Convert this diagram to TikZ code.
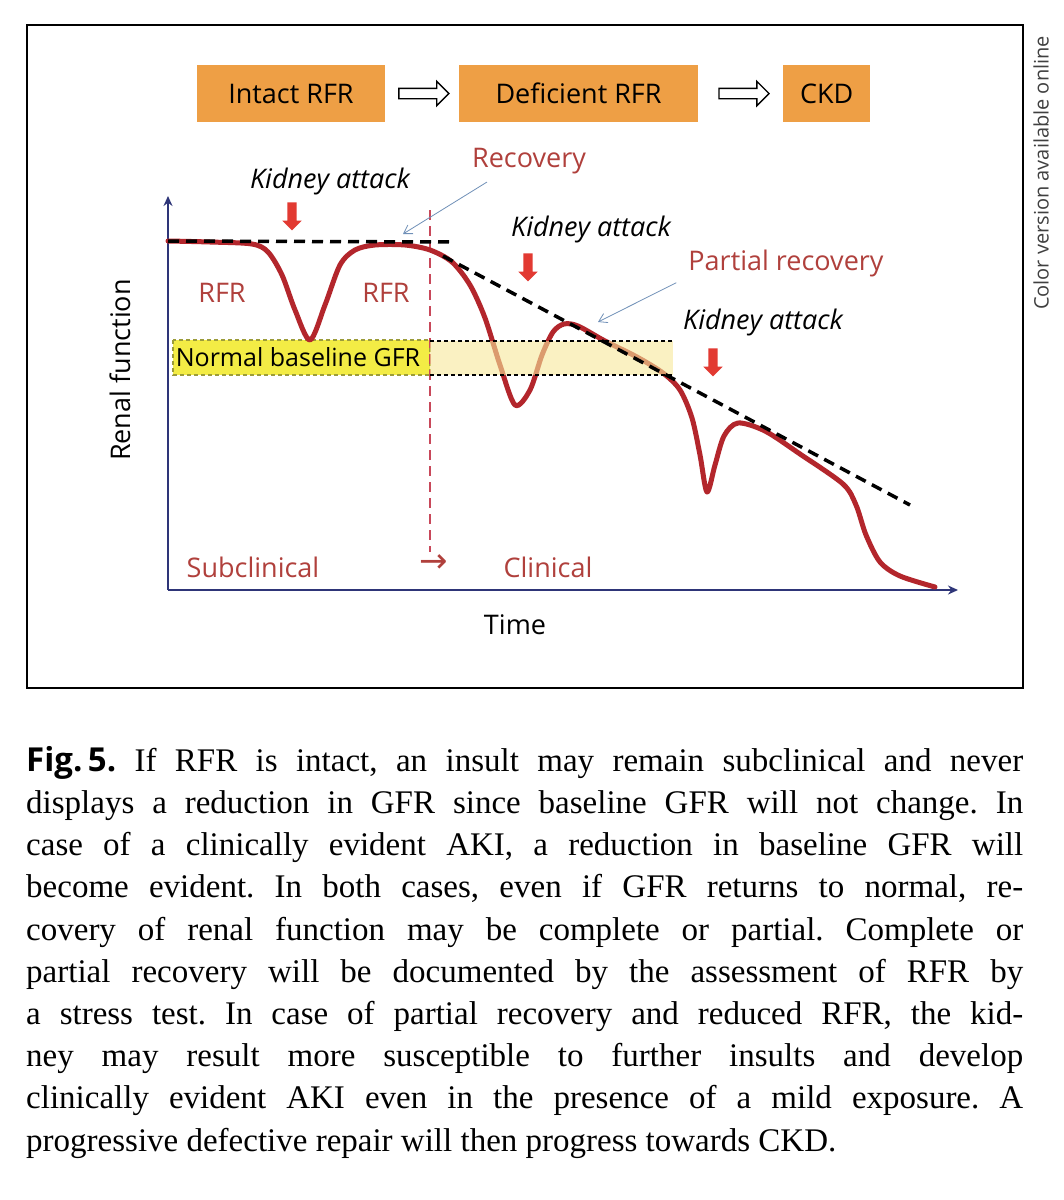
\documentclass[tikz,border=0pt]{standalone}
\usepackage{fontspec}
\setmainfont{Liberation Serif}
\setsansfont{Open Sans}
\newfontfamily\symfont{DejaVu Sans}
\usetikzlibrary{positioning,shapes.arrows,arrows.meta}

\definecolor{boxorange}{HTML}{EE9F45}
\definecolor{curvered}{HTML}{B3262C}
\definecolor{labelred}{HTML}{B0403C}
\definecolor{attackred}{HTML}{E23A32}
\definecolor{axisblue}{HTML}{2E3578}
\definecolor{pointerblue}{HTML}{7090B8}
\definecolor{bandyellow}{HTML}{F3EC45}
\definecolor{bandpale}{HTML}{F7E99A}
\definecolor{bandedge}{HTML}{9C9C3A}
\definecolor{splitred}{HTML}{C8485A}

\tikzset{
  stage/.style={fill=boxorange, minimum height=57pt, inner sep=0pt, font=\sffamily\fontsize{27}{32}\selectfont},
  hollow/.style={single arrow, draw=black, fill=white, line width=1.4pt, minimum height=50pt,
    minimum width=24pt, inner sep=4.5pt, single arrow head extend=7pt, single arrow head indent=0pt},
  attack/.style={single arrow, fill=attackred, rotate=-90, minimum height=28pt, minimum width=19pt,
    inner sep=4.5pt, single arrow head extend=5pt},
  lbl/.style={font=\sffamily\fontsize{27}{32}\selectfont, inner sep=0pt},
  redlbl/.style={lbl, text=labelred},
  attacklbl/.style={lbl, font=\sffamily\itshape\fontsize{27}{32}\selectfont},
  pointer/.style={draw=pointerblue, line width=0.8pt, -{Straight Barb[length=8pt,width=10pt]}},
  axis/.style={draw=axisblue, line width=2.5pt, -{Stealth[length=10pt,width=9pt]}},
  trend/.style={black, line width=3.5pt, dash pattern=on 11pt off 7pt},
}

\begin{document}
\begin{tikzpicture}[x=1pt, y=-1pt]
\useasboundingbox (0,0) rectangle (1064,1200);
\fill[white] (0,0) rectangle (1064,1200);

% frame and side note
\draw[line width=1.5pt] (27,25) rectangle (1023,688);
\node[rotate=90, inner sep=0pt, text=black!75, font=\sffamily\fontsize{20}{24}\selectfont] (note) at (1041,173) {Color version available online};

% stages
\node[stage, minimum width=188pt] (intact) at (291,93.5) {Intact RFR};
\node[hollow, right=13pt of intact] (arr1) {};
\node[stage, minimum width=239pt, right=9pt of arr1] (deficient) {Deficient RFR};
\node[hollow, right=20pt of deficient] (arr2) {};
\node[stage, minimum width=87pt, right=13pt of arr2] (ckd) {CKD};

% axes
\coordinate (origin) at (168,590);
\coordinate (ytop) at (168,196);
\coordinate (xend) at (958,590);
\draw[axis] (origin) -- (ytop);
\draw[axis] (origin) -- (xend);

% baseline band
\fill[bandyellow] (173,340) rectangle (430,375);
\draw[bandedge, line width=1.5pt, dash pattern=on 4pt off 3pt] (173,340) rectangle (430,375);
\node[lbl, font=\sffamily\fontsize{25}{30}\selectfont] (baseline) at (298,357) {Normal baseline GFR};

% subclinical / clinical split
\draw[splitred, line width=1.8pt, dash pattern=on 10pt off 6pt] (430,210) -- (430,552);

% renal function
\draw[curvered, line width=5pt, line cap=round, line join=round] plot[smooth, tension=0.5] coordinates {
  (168,241) (210,242) (252,244) (268,252) (282,275) (295,310) (310,340) (325,305) (340,265)
  (355,250) (375,245) (405,245) (430,250) (452,262) (470,285) (485,318) (500,365) (515,405)
  (530,390) (542,355) (553,332) (564,324) (578,326) (605,341) (637,357) (663,373) (680,390)
  (692,418) (700,455) (707,492) (715,465) (724,436) (738,423) (765,431) (800,454) (843,484)
  (856,505) (866,535) (880,562) (900,576) (935,587)};

\fill[bandpale, opacity=0.6] (430,341) rectangle (673,375);
\draw[black, line width=1.1pt, dash pattern=on 4pt off 3pt] (430,341) -- (673,341);
\draw[black, line width=1.1pt, dash pattern=on 4pt off 3pt] (430,375) -- (673,375);

% trend lines
\draw[trend] (168,241) -- (455,242);
\draw[trend] (443,256) -- (910,505);

% labels
\node[attacklbl] (ka1) at (330,181) {Kidney attack};
\node[attack] (hit1) at (292,214) {};
\node[redlbl] (recov) at (529,161) {Recovery};
\coordinate (recovtip) at (403,234);
\draw[pointer] (recov.south west) ++(15,8) -- (recovtip);
\node[redlbl] (rfr1) at (222,293) {RFR};
\node[redlbl] (rfr2) at (386,293) {RFR};

\node[attacklbl] (ka2) at (591,229) {Kidney attack};
\node[attack] (hit2) at (528,265) {};
\node[redlbl] (partial) at (786,263) {Partial recovery};
\coordinate (partialtip) at (598,322);
\draw[pointer] (partial.south west) ++(-12,6) -- (partialtip);

\node[attacklbl] (ka3) at (763,322) {Kidney attack};
\node[attack] (hit3) at (713,360) {};

\node[lbl, rotate=90] (ylabel) at (120,370) {Renal function};
\node[lbl] (xlabel) at (515,625) {Time};
\node[redlbl] (subcl) at (253,567) {Subclinical};
\node[redlbl, font=\symfont\fontsize{34}{40}\selectfont] (shift) at (434,564) {→};
\node[redlbl] (clin) at (548,567) {Clinical};

% caption
\node[anchor=north west, inner sep=0pt, text width=997pt, align=justify,
  font=\fontsize{33}{42.2}\selectfont] (caption) at (26,746) {\frenchspacing\hyphenpenalty=10000
  {\sffamily\bfseries Fig.\,5.} If RFR is intact, an insult may remain subclinical and never\linebreak
  displays a reduction in GFR since baseline GFR will not change. In\linebreak
  case of a clinically evident AKI, a reduction in baseline GFR will\linebreak
  become evident. In both cases, even if GFR returns to normal, re-\linebreak
  covery of renal function may be complete or partial. Complete or\linebreak
  partial recovery will be documented by the assessment of RFR by\linebreak
  a stress test. In case of partial recovery and reduced RFR, the kid-\linebreak
  ney may result more susceptible to further insults and develop\linebreak
  clinically evident AKI even in the presence of a mild exposure. A\linebreak
  progressive defective repair will then progress towards CKD.};
\end{tikzpicture}
\end{document}
